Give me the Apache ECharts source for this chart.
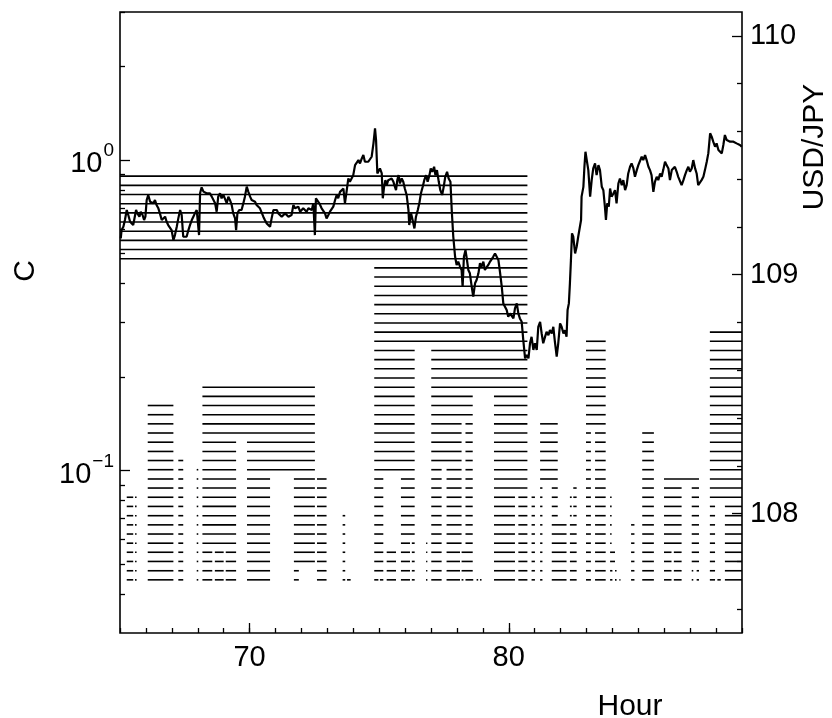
<!DOCTYPE html>
<html>
<head>
<meta charset="utf-8">
<script src="https://cdn.jsdelivr.net/npm/echarts@6/dist/echarts.min.js"></script>
<style>
  html, body { margin: 0; padding: 0; background: #fff; }
  #chart { width: 832px; height: 718px; }
</style>
</head>
<body>
<div id="chart"></div>
<script>
// Cluster levels of C (one horizontal rule per level, top to bottom)
const levelC = [0.888, 0.8296, 0.775, 0.7241, 0.6764, 0.632, 0.5904, 0.5516, 0.5153, 0.4814,
  0.4498, 0.4202, 0.3926, 0.3667, 0.3426, 0.3201, 0.299, 0.2794, 0.261, 0.2438,
  0.2278, 0.2128, 0.1988, 0.1857, 0.1735, 0.1621, 0.1514, 0.1415, 0.1322, 0.1235,
  0.1153, 0.1078, 0.1007, 0.094, 0.0879, 0.0821, 0.0767, 0.0716, 0.0669, 0.0625,
  0.0584, 0.0546, 0.051, 0.0476, 0.0445];

// Time spans per range of levels: [first level, last level, start hour, end hour]
const spans = [
  [0, 9, 65.0, 80.72],
  [10, 18, 74.81, 80.72],
  [35, 44, 65.26, 65.51],
  [35, 44, 65.58, 65.64],
  [25, 44, 66.07, 67.06],
  [31, 44, 67.25, 67.44],
  [32, 44, 67.96, 68.02],
  [23, 28, 68.18, 72.52],
  [29, 40, 68.18, 69.48],
  [41, 44, 68.18, 68.56],
  [41, 44, 68.66, 69.0],
  [41, 44, 69.08, 69.48],
  [29, 32, 69.9, 72.52],
  [33, 44, 69.9, 70.79],
  [33, 42, 71.71, 72.52],
  [43, 44, 71.71, 71.9],
  [33, 44, 72.6, 72.97],
  [37, 44, 73.59, 73.69],
  [44, 44, 73.76, 73.9],
  [19, 32, 74.81, 76.37],
  [33, 43, 74.81, 75.16],
  [44, 44, 74.81, 74.97],
  [44, 44, 75.03, 75.16],
  [41, 44, 75.29, 75.65],
  [33, 39, 75.84, 76.37],
  [40, 44, 75.84, 76.19],
  [40, 44, 76.26, 76.37],
  [40, 44, 76.81, 76.86],
  [19, 23, 77.01, 80.72],
  [24, 26, 77.01, 78.61],
  [27, 31, 77.01, 78.18],
  [27, 40, 78.33, 78.61],
  [32, 44, 77.01, 77.41],
  [32, 40, 77.6, 78.18],
  [41, 44, 77.6, 78.12],
  [41, 43, 78.18, 78.61],
  [44, 44, 78.18, 78.25],
  [44, 44, 78.33, 78.63],
  [44, 44, 78.76, 78.82],
  [44, 44, 78.89, 78.95],
  [24, 34, 79.43, 80.72],
  [35, 44, 79.43, 80.24],
  [35, 44, 80.37, 80.72],
  [35, 44, 80.88, 81.01],
  [27, 33, 81.21, 81.89],
  [34, 44, 81.21, 81.3],
  [34, 37, 81.66, 81.89],
  [38, 44, 81.66, 82.23],
  [35, 37, 82.36, 82.43],
  [34, 37, 82.49, 82.62],
  [38, 44, 82.36, 82.62],
  [18, 27, 82.98, 83.74],
  [28, 44, 82.98, 83.17],
  [28, 44, 83.33, 83.74],
  [35, 40, 83.91, 83.97],
  [41, 42, 83.91, 84.1],
  [43, 44, 83.91, 84.0],
  [43, 44, 84.1, 84.16],
  [44, 44, 84.27, 84.31],
  [38, 44, 84.72, 84.85],
  [28, 44, 85.15, 85.6],
  [33, 33, 85.99, 87.34],
  [34, 40, 85.99, 86.67],
  [41, 44, 85.99, 86.28],
  [41, 44, 86.37, 86.67],
  [34, 42, 87.06, 87.34],
  [43, 44, 87.06, 87.12],
  [43, 44, 87.25, 87.34],
  [17, 35, 87.76, 89.0],
  [36, 44, 87.76, 87.96],
  [44, 44, 88.05, 88.18],
  [36, 44, 88.34, 89.0]
];

// USD/JPY rate: hour, price
const rateHour = [65.03, 65.06, 65.13, 65.19, 65.26, 65.32, 65.39, 65.45, 65.51, 65.58,
  65.62, 65.67, 65.75, 65.8, 65.87, 65.93, 65.98, 66.03, 66.09, 66.16,
  66.22, 66.29, 66.35, 66.41, 66.48, 66.54, 66.61, 66.67, 66.74, 66.8,
  66.86, 66.93, 66.99, 67.06, 67.12, 67.19, 67.25, 67.32, 67.38, 67.44,
  67.51, 67.57, 67.64, 67.7, 67.77, 67.83, 67.89, 67.96, 68.02, 68.05,
  68.09, 68.15, 68.22, 68.28, 68.34, 68.41, 68.47, 68.54, 68.6, 68.67,
  68.73, 68.79, 68.86, 68.92, 68.99, 69.05, 69.12, 69.18, 69.24, 69.31,
  69.37, 69.44, 69.48, 69.53, 69.6, 69.69, 69.76, 69.82, 69.89, 69.95,
  70.02, 70.08, 70.14, 70.21, 70.27, 70.34, 70.4, 70.47, 70.53, 70.59,
  70.66, 70.72, 70.79, 70.85, 70.92, 70.98, 71.05, 71.11, 71.17, 71.24,
  71.3, 71.37, 71.43, 71.5, 71.56, 71.62, 71.69, 71.75, 71.82, 71.88,
  71.95, 72.01, 72.07, 72.14, 72.2, 72.27, 72.33, 72.4, 72.46, 72.52,
  72.56, 72.61, 72.69, 72.78, 72.85, 72.91, 72.97, 73.04, 73.1, 73.17,
  73.23, 73.3, 73.36, 73.42, 73.49, 73.55, 73.62, 73.68, 73.75, 73.81,
  73.87, 73.94, 74.0, 74.07, 74.13, 74.2, 74.26, 74.33, 74.39, 74.45,
  74.52, 74.58, 74.65, 74.71, 74.78, 74.84, 74.88, 74.93, 74.98, 75.03,
  75.1, 75.14, 75.19, 75.24, 75.29, 75.35, 75.42, 75.48, 75.55, 75.61,
  75.65, 75.7, 75.75, 75.8, 75.87, 75.93, 75.99, 76.06, 76.13, 76.16,
  76.23, 76.29, 76.36, 76.42, 76.49, 76.55, 76.61, 76.68, 76.74, 76.81,
  76.87, 76.94, 76.99, 77.05, 77.12, 77.17, 77.23, 77.3, 77.36, 77.43,
  77.49, 77.55, 77.62, 77.68, 77.75, 77.8, 77.86, 77.93, 77.99, 78.05,
  78.12, 78.18, 78.22, 78.27, 78.33, 78.38, 78.44, 78.5, 78.57, 78.63,
  78.7, 78.76, 78.83, 78.89, 78.95, 79.02, 79.08, 79.15, 79.21, 79.28,
  79.34, 79.4, 79.47, 79.53, 79.6, 79.66, 79.73, 79.79, 79.85, 79.92,
  79.98, 80.05, 80.11, 80.18, 80.24, 80.31, 80.37, 80.43, 80.5, 80.56,
  80.63, 80.69, 80.76, 80.82, 80.88, 80.95, 81.01, 81.08, 81.14, 81.21,
  81.27, 81.33, 81.4, 81.46, 81.53, 81.59, 81.66, 81.72, 81.78, 81.85,
  81.91, 81.98, 82.04, 82.11, 82.17, 82.23, 82.27, 82.32, 82.36, 82.4,
  82.44, 82.49, 82.56, 82.62, 82.68, 82.75, 82.79, 82.81, 82.88, 82.92,
  82.96, 83.01, 83.07, 83.14, 83.2, 83.26, 83.33, 83.39, 83.46, 83.52,
  83.59, 83.65, 83.71, 83.75, 83.8, 83.86, 83.91, 83.97, 84.04, 84.1,
  84.16, 84.23, 84.29, 84.36, 84.42, 84.49, 84.55, 84.61, 84.68, 84.74,
  84.81, 84.87, 84.94, 85.0, 85.06, 85.13, 85.19, 85.26, 85.32, 85.39,
  85.45, 85.51, 85.58, 85.64, 85.71, 85.77, 85.84, 85.9, 85.96, 86.03,
  86.09, 86.16, 86.22, 86.29, 86.35, 86.41, 86.48, 86.54, 86.61, 86.67,
  86.74, 86.8, 86.87, 86.93, 86.99, 87.06, 87.12, 87.19, 87.25, 87.31,
  87.38, 87.44, 87.51, 87.57, 87.64, 87.7, 87.77, 87.83, 87.89, 87.96,
  88.02, 88.09, 88.15, 88.22, 88.28, 88.34, 88.41, 88.47, 88.54, 88.6,
  88.67, 88.73, 88.79, 88.86, 88.92, 88.99];
const ratePrice = [109.152, 109.187, 109.201, 109.229, 109.271, 109.25, 109.222, 109.229, 109.208, 109.201,
  109.271, 109.257, 109.243, 109.264, 109.25, 109.229, 109.243, 109.313, 109.334, 109.306,
  109.306, 109.299, 109.313, 109.292, 109.278, 109.257, 109.229, 109.236, 109.243, 109.222,
  109.208, 109.201, 109.187, 109.145, 109.166, 109.201, 109.236, 109.271, 109.25, 109.159,
  109.166, 109.159, 109.187, 109.208, 109.229, 109.243, 109.257, 109.271, 109.264, 109.166,
  109.341, 109.366, 109.348, 109.355, 109.341, 109.348, 109.341, 109.327, 109.327, 109.299,
  109.264, 109.327, 109.341, 109.32, 109.334, 109.327, 109.299, 109.327, 109.313, 109.292,
  109.257, 109.236, 109.187, 109.257, 109.271, 109.271, 109.299, 109.327, 109.369, 109.348,
  109.327, 109.313, 109.32, 109.306, 109.292, 109.285, 109.278, 109.271, 109.243, 109.229,
  109.215, 109.208, 109.201, 109.236, 109.271, 109.264, 109.271, 109.257, 109.25, 109.243,
  109.25, 109.257, 109.25, 109.243, 109.236, 109.25, 109.292, 109.278, 109.278, 109.285,
  109.264, 109.271, 109.278, 109.271, 109.264, 109.278, 109.271, 109.271, 109.299, 109.166,
  109.32, 109.327, 109.299, 109.278, 109.271, 109.257, 109.236, 109.25, 109.264, 109.271,
  109.285, 109.313, 109.334, 109.32, 109.347, 109.34, 109.361, 109.299, 109.354, 109.403,
  109.389, 109.396, 109.417, 109.459, 109.466, 109.48, 109.466, 109.487, 109.501, 109.473,
  109.466, 109.473, 109.466, 109.494, 109.55, 109.613, 109.564, 109.424, 109.417, 109.445,
  109.424, 109.32, 109.368, 109.396, 109.375, 109.396, 109.389, 109.403, 109.389, 109.368,
  109.354, 109.396, 109.417, 109.382, 109.403, 109.389, 109.361, 109.334, 109.271, 109.208,
  109.257, 109.229, 109.194, 109.243, 109.271, 109.299, 109.34, 109.368, 109.396, 109.417,
  109.389, 109.417, 109.445, 109.431, 109.452, 109.417, 109.438, 109.389, 109.354, 109.334,
  109.368, 109.41, 109.431, 109.403, 109.389, 109.271, 109.159, 109.075, 109.041, 109.055,
  109.034, 109.02, 108.95, 109.075, 109.103, 109.068, 109.02, 109.006, 108.95, 108.908,
  108.964, 108.978, 109.006, 109.048, 109.034, 109.055, 109.02, 109.027, 109.041, 109.055,
  109.048, 109.075, 109.089, 109.096, 109.062, 109.013, 108.95, 108.88, 108.873, 108.852,
  108.824, 108.838, 108.845, 108.817, 108.859, 108.88, 108.838, 108.817, 108.803, 108.727,
  108.65, 108.664, 108.65, 108.713, 108.74, 108.685, 108.713, 108.685, 108.782, 108.803,
  108.754, 108.713, 108.74, 108.761, 108.747, 108.768, 108.754, 108.782, 108.72, 108.657,
  108.713, 108.796, 108.782, 108.754, 108.768, 108.74, 108.852, 108.88, 108.964, 109.062,
  109.173, 109.159, 109.089, 109.117, 109.159, 109.166, 109.229, 109.327, 109.368, 109.452,
  109.515, 109.48, 109.438, 109.327, 109.396, 109.445, 109.466, 109.417, 109.459, 109.438,
  109.368, 109.354, 109.285, 109.229, 109.299, 109.285, 109.361, 109.327, 109.34, 109.354,
  109.299, 109.382, 109.403, 109.375, 109.396, 109.354, 109.375, 109.424, 109.452, 109.466,
  109.445, 109.41, 109.438, 109.459, 109.466, 109.494, 109.48, 109.501, 109.48, 109.452,
  109.438, 109.417, 109.347, 109.389, 109.41, 109.396, 109.424, 109.41, 109.438, 109.473,
  109.459, 109.445, 109.396, 109.438, 109.445, 109.452, 109.431, 109.41, 109.403, 109.375,
  109.396, 109.417, 109.438, 109.452, 109.431, 109.445, 109.48, 109.445, 109.424, 109.375,
  109.382, 109.396, 109.41, 109.438, 109.473, 109.508, 109.592, 109.578, 109.557, 109.536,
  109.55, 109.522, 109.515, 109.508, 109.543, 109.585, 109.564, 109.571, 109.557, 109.564,
  109.557, 109.564, 109.55, 109.557, 109.543, 109.536];

// Axis ticks and labels
const hourLabels = [70, 80];
const cMajor = [0.1, 1];
const cMinor = [0.04, 0.05, 0.06, 0.07, 0.08, 0.09, 0.2, 0.3, 0.4, 0.5, 0.6, 0.7, 0.8, 0.9, 2, 3];
const priceMajor = [108, 109, 110];
const priceMinor = [107.6, 107.8, 108.2, 108.4, 108.6, 108.8, 109.2, 109.4, 109.6, 109.8];

const FONT = 'Liberation Sans, Arial, Helvetica, sans-serif';

const ruleData = [];
spans.forEach(function (s) {
  for (let k = s[0]; k <= s[1]; k++) ruleData.push([s[2], s[3], levelC[k]]);
});
const rateData = rateHour.map(function (h, i) { return [h, ratePrice[i]]; });

const chart = echarts.init(document.getElementById('chart'), null, { renderer: 'canvas' });

const tickStyle = { color: '#000', width: 1.3 };

chart.setOption({
  animation: false,
  backgroundColor: '#fff',
  grid: {
    left: 120, right: 90, top: 12, bottom: 85,
    show: true, borderColor: '#000', borderWidth: 1.6, backgroundColor: 'transparent',
    containLabel: false, outerBoundsMode: 'none'
  },
  xAxis: [
    {
      type: 'value', min: 65, max: 89, interval: 1, position: 'bottom',
      axisLine: { show: false },
      axisTick: { show: true, inside: true, length: 5, lineStyle: tickStyle },
      axisLabel: { show: false },
      splitLine: { show: false }
    },
    {
      type: 'value', min: 65, max: 89, position: 'bottom',
      axisLine: { show: false },
      axisTick: { show: true, inside: true, length: 10, customValues: hourLabels, lineStyle: tickStyle },
      axisLabel: {
        show: true, customValues: hourLabels, margin: 10,
        fontSize: 29, fontFamily: FONT, color: '#000'
      },
      splitLine: { show: false }
    }
  ],
  yAxis: [
    {
      type: 'log', logBase: 10, min: 0.03, max: 3, position: 'left',
      axisLine: { show: false },
      axisTick: { show: true, inside: true, length: 5, customValues: cMinor, lineStyle: tickStyle },
      axisLabel: {
        show: true, customValues: cMajor, margin: 6, fontFamily: FONT,
        formatter: function (v) {
          const e = Math.round(Math.log10(v));
          return '{b|10}{s|' + (e < 0 ? '\u2212' + (-e) : e) + '}';
        },
        rich: {
          b: { fontSize: 29, fontFamily: FONT, color: '#000', padding: [8, 0, 0, 0] },
          s: { fontSize: 19, fontFamily: FONT, color: '#000', padding: [0, 0, 18, 1] }
        }
      },
      splitLine: { show: false }
    },
    {
      type: 'value', min: 107.5, max: 110.1, position: 'right',
      axisLine: { show: false },
      axisTick: { show: true, inside: true, length: 5, customValues: priceMinor, lineStyle: tickStyle },
      axisLabel: {
        show: true, customValues: priceMajor, margin: 8,
        fontSize: 29, fontFamily: FONT, color: '#000'
      },
      splitLine: { show: false }
    },
    {
      type: 'log', logBase: 10, min: 0.03, max: 3, position: 'left',
      axisLine: { show: false },
      axisTick: { show: true, inside: true, length: 10, customValues: cMajor, lineStyle: tickStyle },
      axisLabel: { show: false },
      splitLine: { show: false }
    },
    {
      type: 'value', min: 107.5, max: 110.1, position: 'right',
      axisLine: { show: false },
      axisTick: { show: true, inside: true, length: 10, customValues: priceMajor, lineStyle: tickStyle },
      axisLabel: { show: false },
      splitLine: { show: false }
    }
  ],
  graphic: [
    {
      type: 'text', x: 630, y: 707,
      style: { text: 'Hour', font: '30px ' + FONT, fill: '#000', align: 'center', verticalAlign: 'middle' }
    },
    {
      type: 'text', x: 26, y: 271, rotation: Math.PI / 2,
      style: { text: 'C', font: '30px ' + FONT, fill: '#000', align: 'center', verticalAlign: 'middle' }
    },
    {
      type: 'text', x: 815, y: 147, rotation: Math.PI / 2,
      style: { text: 'USD/JPY', font: '30px ' + FONT, fill: '#000', align: 'center', verticalAlign: 'middle' }
    }
  ],
  series: [
    {
      type: 'custom',
      xAxisIndex: 0, yAxisIndex: 0,
      encode: { x: [0, 1], y: 2 },
      clip: true,
      data: ruleData,
      renderItem: function (params, api) {
        const a = api.coord([api.value(0), api.value(2)]);
        const b = api.coord([api.value(1), api.value(2)]);
        return {
          type: 'line',
          shape: { x1: a[0], y1: a[1], x2: b[0], y2: b[1] },
          style: { stroke: '#000', lineWidth: 1.6 }
        };
      }
    },
    {
      type: 'line',
      xAxisIndex: 0, yAxisIndex: 1,
      data: rateData,
      showSymbol: false,
      symbol: 'none',
      clip: true,
      lineStyle: { color: '#000', width: 2.2 },
      z: 3
    }
  ]
});
</script>
</body>
</html>
